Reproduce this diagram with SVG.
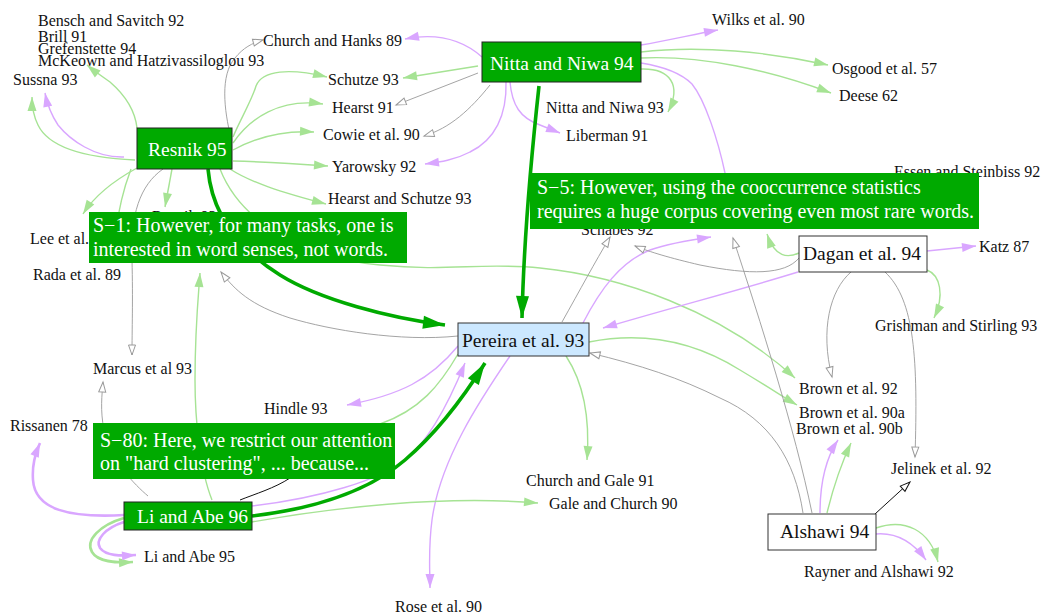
<svg xmlns="http://www.w3.org/2000/svg" width="1041" height="614" viewBox="0 0 1041 614">
<style>
text{font-family:"Liberation Serif","Times New Roman",serif;}
.lbl{font-size:16px;fill:#111;}
.nt{font-size:19.5px;}
.ct{font-size:20px;fill:#fff;}
.g{fill:none;stroke:#a6e394;stroke-width:1.4;marker-end:url(#mg);}
.p{fill:none;stroke:#d9a6ff;stroke-width:1.4;marker-end:url(#mp);}
.gr{fill:none;stroke:#9a9a9a;stroke-width:0.9;marker-end:url(#mo);}
.bk{fill:none;stroke:#111;stroke-width:1;marker-end:url(#mb);}
.th{fill:none;stroke:#00aa00;stroke-width:3.6;marker-end:url(#mt);}
.gn{fill:none;stroke:#a6e394;stroke-width:1.4;}
.pn{fill:none;stroke:#d9a6ff;stroke-width:1.4;}
.grn{fill:none;stroke:#9a9a9a;stroke-width:0.9;}
.bkn{fill:none;stroke:#111;stroke-width:1;}
.nodeG{fill:#00aa00;stroke:#222;stroke-width:1;}
.nodeW{fill:#fff;stroke:#333;stroke-width:1;}
.nodeB{fill:#cce8ff;stroke:#333;stroke-width:1;}
.call{fill:#00aa00;}
</style>
<defs>
<marker id="mg" markerUnits="userSpaceOnUse" markerWidth="14" markerHeight="9" refX="14" refY="4.5" orient="auto" overflow="visible"><path d="M0,0 L14,4.5 L0,9 z" fill="#a6e394"/></marker>
<marker id="mp" markerUnits="userSpaceOnUse" markerWidth="14" markerHeight="9" refX="14" refY="4.5" orient="auto" overflow="visible"><path d="M0,0 L14,4.5 L0,9 z" fill="#d9a6ff"/></marker>
<marker id="mo" markerUnits="userSpaceOnUse" markerWidth="11" markerHeight="8" refX="10.5" refY="3.5" orient="auto" overflow="visible"><path d="M0.5,0 L10.5,3.5 L0.5,7 z" fill="#fff" stroke="#9a9a9a" stroke-width="1"/></marker>
<marker id="mb" markerUnits="userSpaceOnUse" markerWidth="11" markerHeight="8" refX="10.5" refY="3.5" orient="auto" overflow="visible"><path d="M0.5,0 L10.5,3.5 L0.5,7 z" fill="#fff" stroke="#111" stroke-width="1"/></marker>
<marker id="mt" markerUnits="userSpaceOnUse" markerWidth="22" markerHeight="13" refX="22" refY="6.5" orient="auto" overflow="visible"><path d="M0,0 L22,6.5 L0,13 z" fill="#00aa00"/></marker>
</defs>

<g id="connectors">
<!-- Resnik 95 -->
<path class="g" d="M137,128 C135,110 125,95 110,82 C100,75 93,70 87,65"/>
<path class="g" d="M135,160 C90,158 50,150 38,125 C33,115 32,105 32,97"/>
<path class="p" d="M124,157 C95,158 70,140 58,125 C50,113 47,103 45,93"/>
<path class="gr" d="M231,138 C224,110 220,75 235,58 C243,48 252,43 263,40"/>
<path class="g" d="M233,137 C240,120 252,100 256,86 C262,70 290,68 327,77"/>
<path class="g" d="M233,143 C250,118 280,98 323,104"/>
<path class="g" d="M233,150 C255,138 280,130 314,132"/>
<path class="g" d="M233,161 C270,162 300,164 328,166"/>
<path class="g" d="M230,169 C250,182 280,192 326,204"/>
<path class="g" d="M172,169 L165,207"/>
<path class="gr" d="M163,169 C140,185 130,215 132,260 C133,300 132,330 132,355"/>
<path class="g" d="M137,168 C115,180 95,195 83,214"/>
<path class="gn" d="M131,169 C125,185 118,205 112,262"/>
<path class="g" d="M220,169 C240,220 300,258 380,265 C450,272 480,262 540,268 C620,276 720,310 795,378"/>
<path class="th" d="M208,169 C212,215 240,250 280,275 C320,300 390,318 445,325"/>
<path class="gr" d="M458,336 C400,342 330,330 290,318 C250,305 235,290 221,272"/>
<!-- Nitta and Niwa 94 -->
<path class="p" d="M482,57 C465,42 440,32 405,39"/>
<path class="g" d="M478,66 L403,78"/>
<path class="gr" d="M478,73 L396,105"/>
<path class="gr" d="M490,85 C470,110 450,128 424,136"/>
<path class="p" d="M506,82 C507,115 495,140 470,152 C455,160 440,162 425,164"/>
<path class="p" d="M510,82 C512,105 520,118 540,125 L560,133"/>
<path class="th" d="M539,86 C532,150 524,230 522,318"/>
<path class="g" d="M641,69 C670,68 682,85 668,112"/>
<path class="p" d="M641,45 C670,40 695,34 718,30"/>
<path class="g" d="M641,52 C700,45 770,52 828,65"/>
<path class="g" d="M641,58 C700,55 770,70 831,93"/>
<path class="pn" d="M641,63 C660,66 680,72 692,84 C705,100 718,140 725,173 L728,210"/>
<!-- Pereira et al. 93 -->
<path class="p" d="M583,323 C600,290 620,262 650,250 C670,243 690,240 711,237"/>
<path class="gr" d="M562,322 C580,290 595,262 610,237"/>
<path class="g" d="M589,342 C650,330 700,345 740,370 C770,388 785,398 797,405"/>
<path class="g" d="M566,356 C585,385 590,420 587,460"/>
<path class="p" d="M510,356 C480,400 440,460 432,520 C428,550 430,570 430,588"/>
<path class="p" d="M458,346 C430,380 400,395 347,405"/>
<path class="gn" d="M458,354 C440,385 420,410 380,424 C360,432 340,440 330,445"/>
<!-- Dagan et al. 94 -->
<path class="gr" d="M799,258 C785,275 750,275 700,265 C670,258 650,252 635,246"/>
<path class="g" d="M799,253 C788,258 775,258 767,234"/>
<path class="p" d="M798,272 C740,290 670,308 603,328"/>
<path class="p" d="M927,251 L976,246"/>
<path class="g" d="M927,270 C940,275 945,295 934,318"/>
<path class="gr" d="M851,272 C830,290 820,330 832,377"/>
<path class="gr" d="M885,272 C915,300 918,360 915,457"/>
<!-- Alshawi 94 -->
<path class="gr" d="M803,513 C795,460 770,420 720,398 C680,378 640,365 590,353"/>
<path class="gr" d="M812,513 C795,430 760,320 733,238"/>
<path class="p" d="M820,513 C820,480 828,455 838,440"/>
<path class="g" d="M827,513 C835,480 843,460 851,443"/>
<path class="bk" d="M875,514 L910,482"/>
<path class="g" d="M876,528 C905,518 930,530 938,562"/>
<path class="p" d="M876,534 C900,532 915,545 926,560"/>
<!-- Li and Abe 96 -->
<path class="p" d="M252,506 C320,498 380,480 405,460 C430,440 450,400 465,363"/>
<path class="th" d="M252,516 C320,508 370,490 405,460 C440,430 465,395 485,363"/>
<path class="g" d="M252,522 C330,508 440,495 538,503"/>
<path class="bkn" d="M240,500 C255,494 275,488 290,478"/>
<path class="gr" d="M148,496 C135,485 110,460 104,430 C100,410 102,395 103,382"/>
<path class="g" d="M212,500 C200,470 195,420 195,380 C195,330 198,300 200,273"/>
<path class="p" style="stroke-width:2.6" d="M124,515 C70,518 35,510 33,480 C32,465 35,455 40,443"/>
<path class="g" style="stroke-width:2.6" d="M124,518 C100,525 85,540 92,552 C98,562 115,563 133,562"/>
<path class="p" style="stroke-width:2.6" d="M124,522 C105,528 95,540 100,548 C106,556 120,556 136,555"/>
</g>

<g id="labels">
<text class="lbl" x="38" y="26">Bensch and Savitch 92</text>
<text class="lbl" x="38" y="42">Brill 91</text>
<text class="lbl" x="38" y="54">Grefenstette 94</text>
<text class="lbl" x="38" y="66">McKeown and Hatzivassiloglou 93</text>
<text class="lbl" x="13" y="85">Sussna 93</text>
<text class="lbl" x="263" y="46">Church and Hanks 89</text>
<text class="lbl" x="328" y="85">Schutze 93</text>
<text class="lbl" x="332" y="113">Hearst 91</text>
<text class="lbl" x="323" y="140">Cowie et al. 90</text>
<text class="lbl" x="332" y="172">Yarowsky 92</text>
<text class="lbl" x="328" y="204">Hearst and Schutze 93</text>
<text class="lbl" x="712" y="25">Wilks et al. 90</text>
<text class="lbl" x="832" y="74">Osgood et al. 57</text>
<text class="lbl" x="839" y="101">Deese 62</text>
<text class="lbl" x="546" y="113">Nitta and Niwa 93</text>
<text class="lbl" x="566" y="141">Liberman 91</text>
<text class="lbl" x="894" y="177">Essen and Steinbiss 92</text>
<text class="lbl" x="152" y="222">Resnik 93</text>
<text class="lbl" x="30" y="244">Lee et al.</text>
<text class="lbl" x="33" y="280">Rada et al. 89</text>
<text class="lbl" x="581" y="235">Schabes 92</text>
<text class="lbl" x="979" y="252">Katz 87</text>
<text class="lbl" x="875" y="331">Grishman and Stirling 93</text>
<text class="lbl" x="93" y="374">Marcus et al 93</text>
<text class="lbl" x="799" y="394">Brown et al. 92</text>
<text class="lbl" x="264" y="414">Hindle 93</text>
<text class="lbl" x="799" y="418">Brown et al. 90a</text>
<text class="lbl" x="10" y="431">Rissanen 78</text>
<text class="lbl" x="796" y="434">Brown et al. 90b</text>
<text class="lbl" x="891" y="474">Jelinek et al. 92</text>
<text class="lbl" x="526" y="486">Church and Gale 91</text>
<text class="lbl" x="549" y="509">Gale and Church 90</text>
<text class="lbl" x="144" y="562">Li and Abe 95</text>
<text class="lbl" x="804" y="577">Rayner and Alshawi 92</text>
<text class="lbl" x="395" y="612">Rose et al. 90</text>
</g>

<g id="resnik95">
<rect class="nodeG" x="137" y="128" width="95" height="41"/>
<text class="nt" x="148" y="156" fill="#fff">Resnik 95</text>
</g>
<g id="nitta94">
<rect class="nodeG" x="482" y="42" width="159" height="40"/>
<text class="nt" x="490" y="70" fill="#fff">Nitta and Niwa 94</text>
</g>
<g id="pereira93">
<rect class="nodeB" x="458" y="323" width="131" height="33"/>
<text class="nt" x="462" y="347" fill="#111">Pereira et al. 93</text>
</g>
<g id="dagan94">
<rect class="nodeW" x="799" y="236" width="128" height="36"/>
<text class="nt" x="803" y="260" fill="#111">Dagan et al. 94</text>
</g>
<g id="alshawi94">
<rect class="nodeW" x="768" y="514" width="108" height="36"/>
<text class="nt" x="780" y="538" fill="#111">Alshawi 94</text>
</g>
<g id="liabe96">
<rect class="nodeG" x="124" y="502" width="128" height="28"/>
<text class="nt" x="137" y="523" fill="#fff">Li and Abe 96</text>
</g>

<g id="callout-s1">
<rect class="call" x="89" y="212" width="318" height="51"/>
<text class="ct" x="93" y="232">S−1: However, for many tasks, one is</text>
<text class="ct" x="93" y="256">interested in word senses, not words.</text>
</g>
<g id="callout-s5">
<rect class="call" x="530" y="173" width="449" height="56"/>
<text class="ct" x="537" y="194">S−5: However, using the cooccurrence statistics</text>
<text class="ct" x="537" y="218">requires a huge corpus covering even most rare words.</text>
</g>
<g id="callout-s80">
<rect class="call" x="93" y="423" width="302" height="56"/>
<text class="ct" x="100" y="447">S−80: Here, we restrict our attention</text>
<text class="ct" x="100" y="470">on "hard clustering", ... because...</text>
</g>
</svg>
